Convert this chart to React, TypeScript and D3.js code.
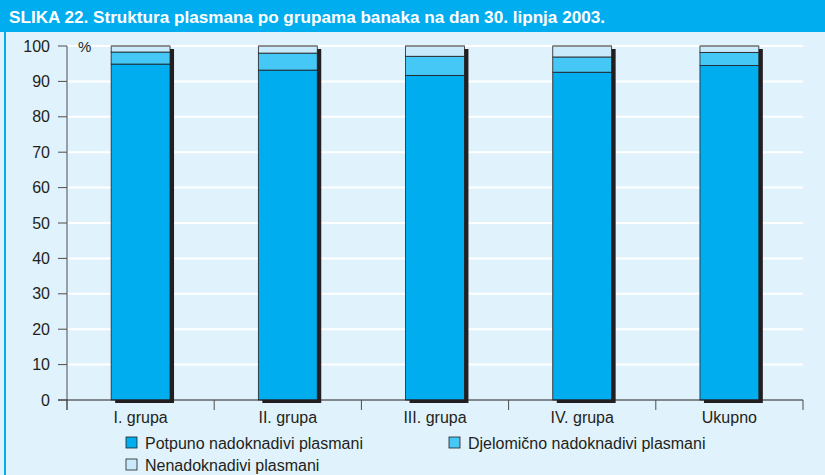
import React from "react";
import * as d3 from "d3";

const WIDTH = 825;
const HEIGHT = 475;
const MARGIN = { top: 46, left: 67, right: 22, bottom: 75 };

const TITLE = "SLIKA 22. Struktura plasmana po grupama banaka na dan 30. lipnja 2003.";
const categories = ["I. grupa", "II. grupa", "III. grupa", "IV. grupa", "Ukupno"];
const potpuno = [94.9, 93.2, 91.7, 92.6, 94.5];
const djelomicno = [3.4, 4.8, 5.4, 4.3, 3.7];
const nenadoknadivi = [1.7, 2.0, 2.9, 3.1, 1.8];
const yTicks = [0, 10, 20, 30, 40, 50, 60, 70, 80, 90, 100];

const seriesNames = ["Potpuno nadoknadivi plasmani", "Djelomično nadoknadivi plasmani", "Nenadoknadivi plasmani"];
const seriesColors = ["#00aeef", "#45c8f5", "#c8eafa"];

const FONT = "'Liberation Sans', Arial, Helvetica, sans-serif";

export default function App() {
  const x = d3
    .scaleBand()
    .domain(categories)
    .range([MARGIN.left, WIDTH - MARGIN.right])
    .paddingInner(0.6)
    .paddingOuter(0.3);
  const step = x.step();
  const y = d3
    .scaleLinear()
    .domain([0, 100])
    .range([HEIGHT - MARGIN.bottom, MARGIN.top]);

  const table = categories.map((c, i) => ({
    key: c,
    s0: potpuno[i],
    s1: djelomicno[i],
    s2: nenadoknadivi[i]
  }));
  const stacked = d3.stack<any>().keys(["s0", "s1", "s2"])(table);

  const bw = x.bandwidth();
  const x0 = MARGIN.left;
  const x1 = WIDTH - MARGIN.right;
  const y0 = y(0);
  const boundaries = d3.range(categories.length + 1).map(i => x0 + i * step);

  return (
    <div style={{ position: "absolute", left: 0, top: 0 }}>
      <svg width={WIDTH} height={HEIGHT} style={{ display: "block" }}>
        <rect x={0} y={0} width={WIDTH} height={HEIGHT} fill="#e0f2fb" />
        <rect x={0} y={0} width={WIDTH} height={32} fill="#00aeef" />
        <rect x={4} y={32} width={2} height={HEIGHT - 32} fill="#00aeef" />
        <text
          x={9}
          y={23}
          fill="#ffffff"
          fontFamily={FONT}
          fontWeight="bold"
          fontSize={16.5}
          textLength={596}
          lengthAdjust="spacingAndGlyphs"
        >
          {TITLE}
        </text>

        {yTicks.filter(t => t > 0).map(t => (
          <line key={t} x1={x0} x2={x1} y1={y(t)} y2={y(t)} stroke="#ffffff" strokeWidth={2} />
        ))}

        {categories.map(c => (
          <rect
            key={"sh" + c}
            x={(x(c) as number) + 4}
            y={y(100) + 3}
            width={bw}
            height={y0 - y(100)}
            fill="#231f20"
          />
        ))}

        {stacked.map((layer, li) =>
          layer.map((d, i) => (
            <rect
              key={li + "-" + i}
              x={x(categories[i]) as number}
              y={y(d[1])}
              width={bw}
              height={y(d[0]) - y(d[1])}
              fill={seriesColors[li]}
              stroke="#231f20"
              strokeWidth={0.8}
            />
          ))
        )}
        {categories.map(c => (
          <line
            key={"top" + c}
            x1={x(c) as number}
            x2={(x(c) as number) + bw}
            y1={y(100)}
            y2={y(100)}
            stroke="#8a8a8a"
            strokeWidth={1.5}
          />
        ))}

        <line x1={x0} x2={x0} y1={y(100)} y2={y0 + 10} stroke="#4d4d4f" strokeWidth={1} />
        <line x1={x0 - 9} x2={x1} y1={y0} y2={y0} stroke="#231f20" strokeWidth={1} />
        {yTicks.map(t => (
          <g key={"yt" + t}>
            <line x1={x0 - 9} x2={x0} y1={y(t)} y2={y(t)} stroke="#4d4d4f" strokeWidth={1} />
            <text
              x={x0 - 17}
              y={y(t) + 5.5}
              textAnchor="end"
              fontFamily={FONT}
              fontSize={16}
              fill="#231f20"
            >
              {t}
            </text>
          </g>
        ))}
        <text x={x0 + 11} y={y(100) + 6} fontFamily={FONT} fontSize={15} fill="#231f20">
          %
        </text>

        {boundaries.map((b, i) => (
          <line key={"xt" + i} x1={b} x2={b} y1={y0} y2={y0 + 10} stroke="#4d4d4f" strokeWidth={1} />
        ))}
        {categories.map(c => (
          <text
            key={"xl" + c}
            x={(x(c) as number) + bw / 2}
            y={y0 + 23}
            textAnchor="middle"
            fontFamily={FONT}
            fontSize={16}
            fill="#231f20"
          >
            {c}
          </text>
        ))}

        {seriesNames.map((name, i) => {
          const lx = i === 1 ? 449 : 126;
          const ly = i === 2 ? 459 : 437;
          return (
            <g key={name}>
              <rect x={lx} y={ly} width={11} height={11} fill={seriesColors[i]} stroke="#231f20" strokeWidth={0.8} />
              <text x={lx + 19} y={ly + 11.5} fontFamily={FONT} fontSize={16} fill="#231f20">
                {name}
              </text>
            </g>
          );
        })}
      </svg>
    </div>
  );
}
